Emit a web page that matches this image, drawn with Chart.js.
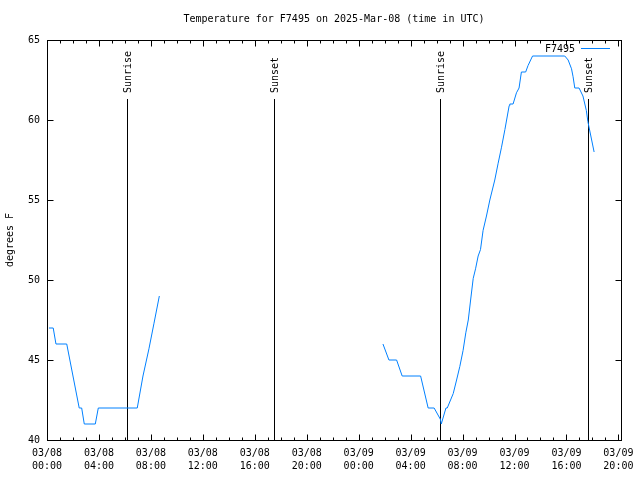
<!DOCTYPE html>
<html>
<head>
<meta charset="utf-8">
<script src="https://cdn.jsdelivr.net/npm/chart.js@4"></script>
<style>
body { margin: 0; background: #fff; }
</style>
</head>
<body>
<canvas id="chart" width="640" height="480"></canvas>
<script>
// hours since 03/08 00:00 UTC, temperature in degrees F
var hoursA = [0.15, 0.48, 0.69, 1.52, 2.48, 2.67, 2.87, 3.72, 3.95, 6.95, 7.39, 7.85, 8.24, 8.65];
var tempsA = [47, 47, 46, 46, 42, 42, 41, 41, 42, 42, 44, 45.7, 47.3, 49];

var hoursB = [25.87, 26.33, 26.92, 27.35, 28.77, 29.35, 29.81, 30.29, 30.36, 30.72, 30.82,
    31.28, 31.54, 31.79, 32.04, 32.25, 32.44, 32.62, 32.82, 33.00, 33.20, 33.38, 33.58,
    33.84, 34.10, 34.48, 34.74, 35.00, 35.26, 35.59, 35.64, 35.89, 36.15, 36.35, 36.53,
    36.86, 37.04, 37.39, 39.87, 40.13, 40.39, 40.51, 40.64, 40.97, 41.27, 41.53, 41.65, 42.13];
var tempsB = [46, 45, 45, 44, 44, 42, 42, 41.3, 41, 42, 42,
    42.9, 43.75, 44.6, 45.6, 46.7, 47.5, 48.75, 50.1, 50.7, 51.5, 51.9, 53.1,
    54, 55, 56.25, 57.3, 58.3, 59.4, 60.9, 61, 61, 61.7, 62, 63,
    63, 63.4, 64, 64, 63.75, 63.2, 62.7, 62, 62, 61.5, 60.6, 59.9, 58];

var tickDays = ['03/08', '03/08', '03/08', '03/08', '03/08', '03/08', '03/09', '03/09', '03/09', '03/09', '03/09', '03/09'];
var tickTimes = ['00:00', '04:00', '08:00', '12:00', '16:00', '20:00', '00:00', '04:00', '08:00', '12:00', '16:00', '20:00'];

var sunHours = [6.18, 17.51, 30.29, 41.67];
var sunLabels = ['Sunrise', 'Sunset', 'Sunrise', 'Sunset'];

var FONT = '10px "DejaVu Sans Mono", monospace';
var LINE_COLOR = '#0080ff';

var points = [];
hoursA.forEach(function(h, i) { points.push({ x: h, y: tempsA[i] }); });
points.push({ x: 17, y: null });
hoursB.forEach(function(h, i) { points.push({ x: h, y: tempsB[i] }); });

var frame = {
    id: 'frame',
    beforeDatasetsDraw: function(chart) {
        var ctx = chart.ctx;
        var xs = chart.scales.x;
        var area = chart.chartArea;
        ctx.save();
        ctx.strokeStyle = '#000';
        ctx.lineWidth = 1;
        ctx.fillStyle = '#000';
        ctx.font = FONT;
        sunHours.forEach(function(h, i) {
            var px = Math.round(xs.getPixelForValue(h)) + 0.5;
            ctx.beginPath();
            ctx.moveTo(px, 99);
            ctx.lineTo(px, area.bottom);
            ctx.stroke();
            ctx.save();
            ctx.translate(px + 1, 93);
            ctx.rotate(-Math.PI / 2);
            ctx.textAlign = 'left';
            ctx.textBaseline = 'middle';
            ctx.fillText(sunLabels[i], 0, 0);
            ctx.restore();
        });
        ctx.restore();
    },
    afterDraw: function(chart) {
        var ctx = chart.ctx;
        var xs = chart.scales.x;
        var ys = chart.scales.y;
        var a = chart.chartArea;
        var l = Math.round(a.left) + 0.5, r = Math.round(a.right) + 0.5;
        var t = Math.round(a.top) + 0.5, b = Math.round(a.bottom) + 0.5;
        ctx.save();
        ctx.strokeStyle = '#000';
        ctx.lineWidth = 1;
        ctx.strokeRect(l, t, r - l, b - t);

        ctx.beginPath();
        for (var h = 0; h <= 44; h++) {
            var len = h % 4 === 0 ? 6 : 3;
            var px = Math.round(xs.getPixelForValue(h)) + 0.5;
            ctx.moveTo(px, b); ctx.lineTo(px, b - len);
            ctx.moveTo(px, t); ctx.lineTo(px, t + len);
        }
        for (var v = 40; v <= 65; v += 5) {
            var py = Math.round(ys.getPixelForValue(v)) + 0.5;
            ctx.moveTo(l, py); ctx.lineTo(l + 6, py);
            ctx.moveTo(r, py); ctx.lineTo(r - 6, py);
        }
        ctx.stroke();

        ctx.fillStyle = '#000';
        ctx.font = FONT;
        ctx.textAlign = 'center';
        ctx.textBaseline = 'middle';
        ctx.fillText('Temperature for F7495 on 2025-Mar-08 (time in UTC)', (a.left + a.right) / 2, 19);

        ctx.save();
        ctx.translate(10, (a.top + a.bottom) / 2);
        ctx.rotate(-Math.PI / 2);
        ctx.fillText('degrees F', 0, 0);
        ctx.restore();

        // legend
        ctx.textAlign = 'right';
        ctx.fillText('F7495', 575, 49);
        ctx.strokeStyle = LINE_COLOR;
        ctx.beginPath();
        ctx.moveTo(581, 48.5);
        ctx.lineTo(610, 48.5);
        ctx.stroke();
        ctx.restore();
    }
};

var ctx = document.getElementById('chart').getContext('2d');
var chart = new Chart(ctx, {
    type: 'line',
    data: {
        datasets: [{
            label: 'F7495',
            data: points,
            borderColor: LINE_COLOR,
            borderWidth: 1,
            pointRadius: 0,
            tension: 0,
            spanGaps: false,
            fill: false
        }]
    },
    options: {
        responsive: false,
        animation: false,
        layout: { padding: { top: 40, right: 19, left: 0, bottom: 0 } },
        plugins: {
            legend: { display: false },
            title: { display: false },
            tooltip: { enabled: false }
        },
        scales: {
            x: {
                type: 'linear',
                min: 0,
                max: 44.2,
                afterFit: function(s) {
                    s.height = 40;
                    s.paddingLeft = 0;
                    s.paddingRight = 0;
                },
                afterBuildTicks: function(s) {
                    s.ticks = tickTimes.map(function(_, i) { return { value: i * 4 }; });
                },
                grid: { display: false, drawTicks: false },
                border: { display: false },
                ticks: {
                    autoSkip: false,
                    maxRotation: 0,
                    padding: 7,
                    color: '#000',
                    font: { family: '"DejaVu Sans Mono", monospace', size: 10, lineHeight: 1.3 },
                    callback: function(value) {
                        var i = Math.round(value / 4);
                        return [tickDays[i], tickTimes[i]];
                    }
                }
            },
            y: {
                min: 40,
                max: 65,
                afterFit: function(s) {
                    s.width = 47;
                    s.paddingTop = 0;
                    s.paddingBottom = 0;
                },
                grid: { display: false, drawTicks: false },
                border: { display: false },
                ticks: {
                    stepSize: 5,
                    padding: 7,
                    color: '#000',
                    font: { family: '"DejaVu Sans Mono", monospace', size: 10 }
                }
            }
        }
    },
    plugins: [frame]
});
</script>
</body>
</html>
